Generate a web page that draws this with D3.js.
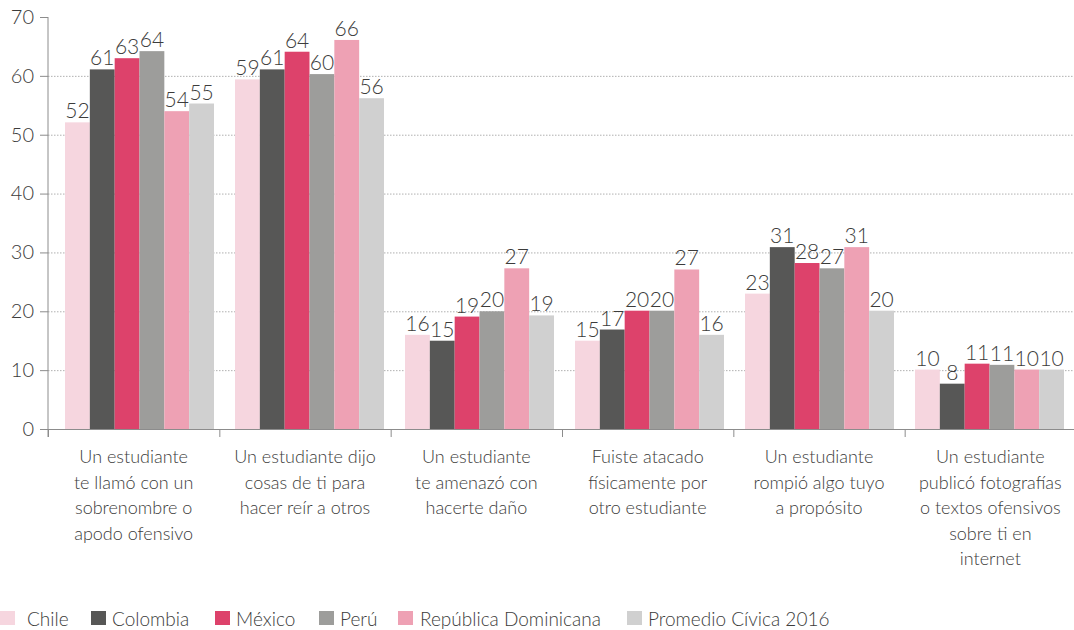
<!DOCTYPE html>
<html>
<head>
<meta charset="utf-8">
<script src="https://cdn.jsdelivr.net/npm/d3@7"></script>
<style>
  html, body { margin: 0; padding: 0; background: #fff; }
  svg { display: block; }
  text { font-family: Lato, "Open Sans", sans-serif; font-weight: 300; fill: #3c3c3b; }
</style>
</head>
<body>
<svg id="chart" width="1074" height="630"></svg>
<script>
// ---- Data ----
const categories = [
  "Un estudiante te llamó con un sobrenombre o apodo ofensivo",
  "Un estudiante dijo cosas de ti para hacer reír a otros",
  "Un estudiante te amenazó con hacerte daño",
  "Fuiste atacado físicamente por otro estudiante",
  "Un estudiante rompió algo tuyo a propósito",
  "Un estudiante publicó fotografías o textos ofensivos sobre ti en internet"
];
const categoryLines = [
  ["Un estudiante", "te llamó con un", "sobrenombre o", "apodo ofensivo"],
  ["Un estudiante dijo", "cosas de ti para", "hacer reír a otros"],
  ["Un estudiante", "te amenazó con", "hacerte daño"],
  ["Fuiste atacado", "físicamente por", "otro estudiante"],
  ["Un estudiante", "rompió algo tuyo", "a propósito"],
  ["Un estudiante", "publicó fotografías", "o textos ofensivos", "sobre ti en", "internet"]
];
const seriesNames = ["Chile", "Colombia", "México", "Perú", "República Dominicana", "Promedio Cívica 2016"];
const chile    = [52.1, 59.4, 16.0, 15.0, 23.0, 10.1];
const colombia = [61.1, 61.1, 15.0, 16.9, 30.9, 7.7];
const mexico   = [63.0, 64.1, 19.1, 20.1, 28.2, 11.1];
const peru     = [64.2, 60.3, 20.0, 20.1, 27.3, 10.9];
const repDom   = [54.0, 66.1, 27.3, 27.1, 30.9, 10.1];
const promedio = [55.3, 56.2, 19.3, 16.0, 20.1, 10.1];
const seriesValues = [chile, colombia, mexico, peru, repDom, promedio];
const colors = ["#f6d6df", "#575756", "#dd426b", "#9d9d9b", "#eea1b4", "#d0d0d0"];
const yTicks = [0, 10, 20, 30, 40, 50, 60, 70];

// ---- Layout ----
const svg = d3.select("#chart");
const axisLeft = 48, axisRight = 1076, yBase = 429, yTop = 17;

const y = d3.scaleLinear().domain([0, 70]).range([yBase, yTop]);
const xCat = d3.scaleBand().domain(categories).range([axisLeft, axisRight]).padding(0);
const xGroup = d3.scaleBand().domain(categories).range([54.5, 1074.5])
  .paddingInner(21 / 170).paddingOuter(10.5 / 170);
const xSeries = d3.scaleBand().domain(seriesNames).range([0, xGroup.bandwidth()]).padding(0);

// gridlines
svg.append("g")
  .selectAll("line")
  .data(yTicks.filter(t => t > 0 && t < 70))
  .join("line")
  .attr("x1", axisLeft).attr("x2", 1074)
  .attr("y1", d => y(d) + 0.5).attr("y2", d => y(d) + 0.5)
  .attr("stroke", "#b0b0b0").attr("stroke-width", 1)
  .attr("stroke-dasharray", "1.5,1.5");

// bars
const groups = svg.append("g").selectAll("g")
  .data(categories)
  .join("g")
  .attr("transform", d => `translate(${xGroup(d)},0)`);

groups.selectAll("rect")
  .data((c, i) => seriesNames.map((s, j) => ({ s, j, v: seriesValues[j][i] })))
  .join("rect")
  .attr("x", d => xSeries(d.s))
  .attr("width", xSeries.bandwidth())
  .attr("y", d => y(d.v))
  .attr("height", d => y(0) - y(d.v))
  .attr("fill", d => colors[d.j]);

groups.selectAll("text")
  .data((c, i) => seriesNames.map((s, j) => ({ s, j, v: seriesValues[j][i] })))
  .join("text")
  .attr("x", d => xSeries(d.s) + xSeries.bandwidth() / 2)
  .attr("y", d => y(d.v) - 4)
  .attr("text-anchor", "middle")
  .attr("font-size", 21)
  .text(d => Math.round(d.v));

// y axis
const yAxis = svg.append("g").attr("transform", `translate(${axisLeft},0)`)
  .call(d3.axisLeft(y).tickValues(yTicks).tickSize(8).tickPadding(6));
yAxis.select(".domain").attr("stroke", "#8c8c8c").attr("d", `M0,${yTop}V${yBase + 8}`);
yAxis.selectAll(".tick line").attr("stroke", "#8c8c8c");
yAxis.selectAll(".tick text").attr("font-size", 20).attr("font-family", "Lato, sans-serif")
  .attr("font-weight", 300).attr("fill", "#3c3c3b");

// x axis
const xAxis = svg.append("g").attr("transform", `translate(0,${yBase})`)
  .call(d3.axisBottom(xCat).tickSize(0).tickFormat(""));
xAxis.select(".domain").attr("stroke", "#8c8c8c").attr("d", `M${axisLeft},0.5H1074`);
xAxis.selectAll(".tick").remove();
// group separator ticks
const sepPos = categories.map(c => xCat(c)).concat([axisRight]);
svg.append("g").selectAll("line")
  .data(sepPos)
  .join("line")
  .attr("x1", d => d + 0.5).attr("x2", d => d + 0.5)
  .attr("y1", yBase).attr("y2", yBase + 8)
  .attr("stroke", "#8c8c8c");

// category labels
const catLabels = svg.append("g").selectAll("text")
  .data(categories)
  .join("text")
  .attr("text-anchor", "middle")
  .attr("font-size", 18)
  .attr("transform", d => `translate(${xCat(d) + xCat.bandwidth() / 2},${yBase + 34})`);
catLabels.selectAll("tspan")
  .data((d, i) => categoryLines[i])
  .join("tspan")
  .attr("x", 0)
  .attr("y", (d, k) => k * 25.5)
  .text(d => d);

// legend
const legendSwatchX = [0, 91, 215, 319, 398, 627];
const legendTextX = [27, 112, 236, 340, 420, 648];
const legend = svg.append("g").selectAll("g")
  .data(seriesNames)
  .join("g");
legend.append("rect")
  .attr("x", (d, i) => legendSwatchX[i])
  .attr("y", 611)
  .attr("width", 15).attr("height", 14)
  .attr("fill", (d, i) => colors[i]);
legend.append("text")
  .attr("x", (d, i) => legendTextX[i])
  .attr("y", 626)
  .attr("font-size", 19)
  .text(d => d);
</script>
</body>
</html>
